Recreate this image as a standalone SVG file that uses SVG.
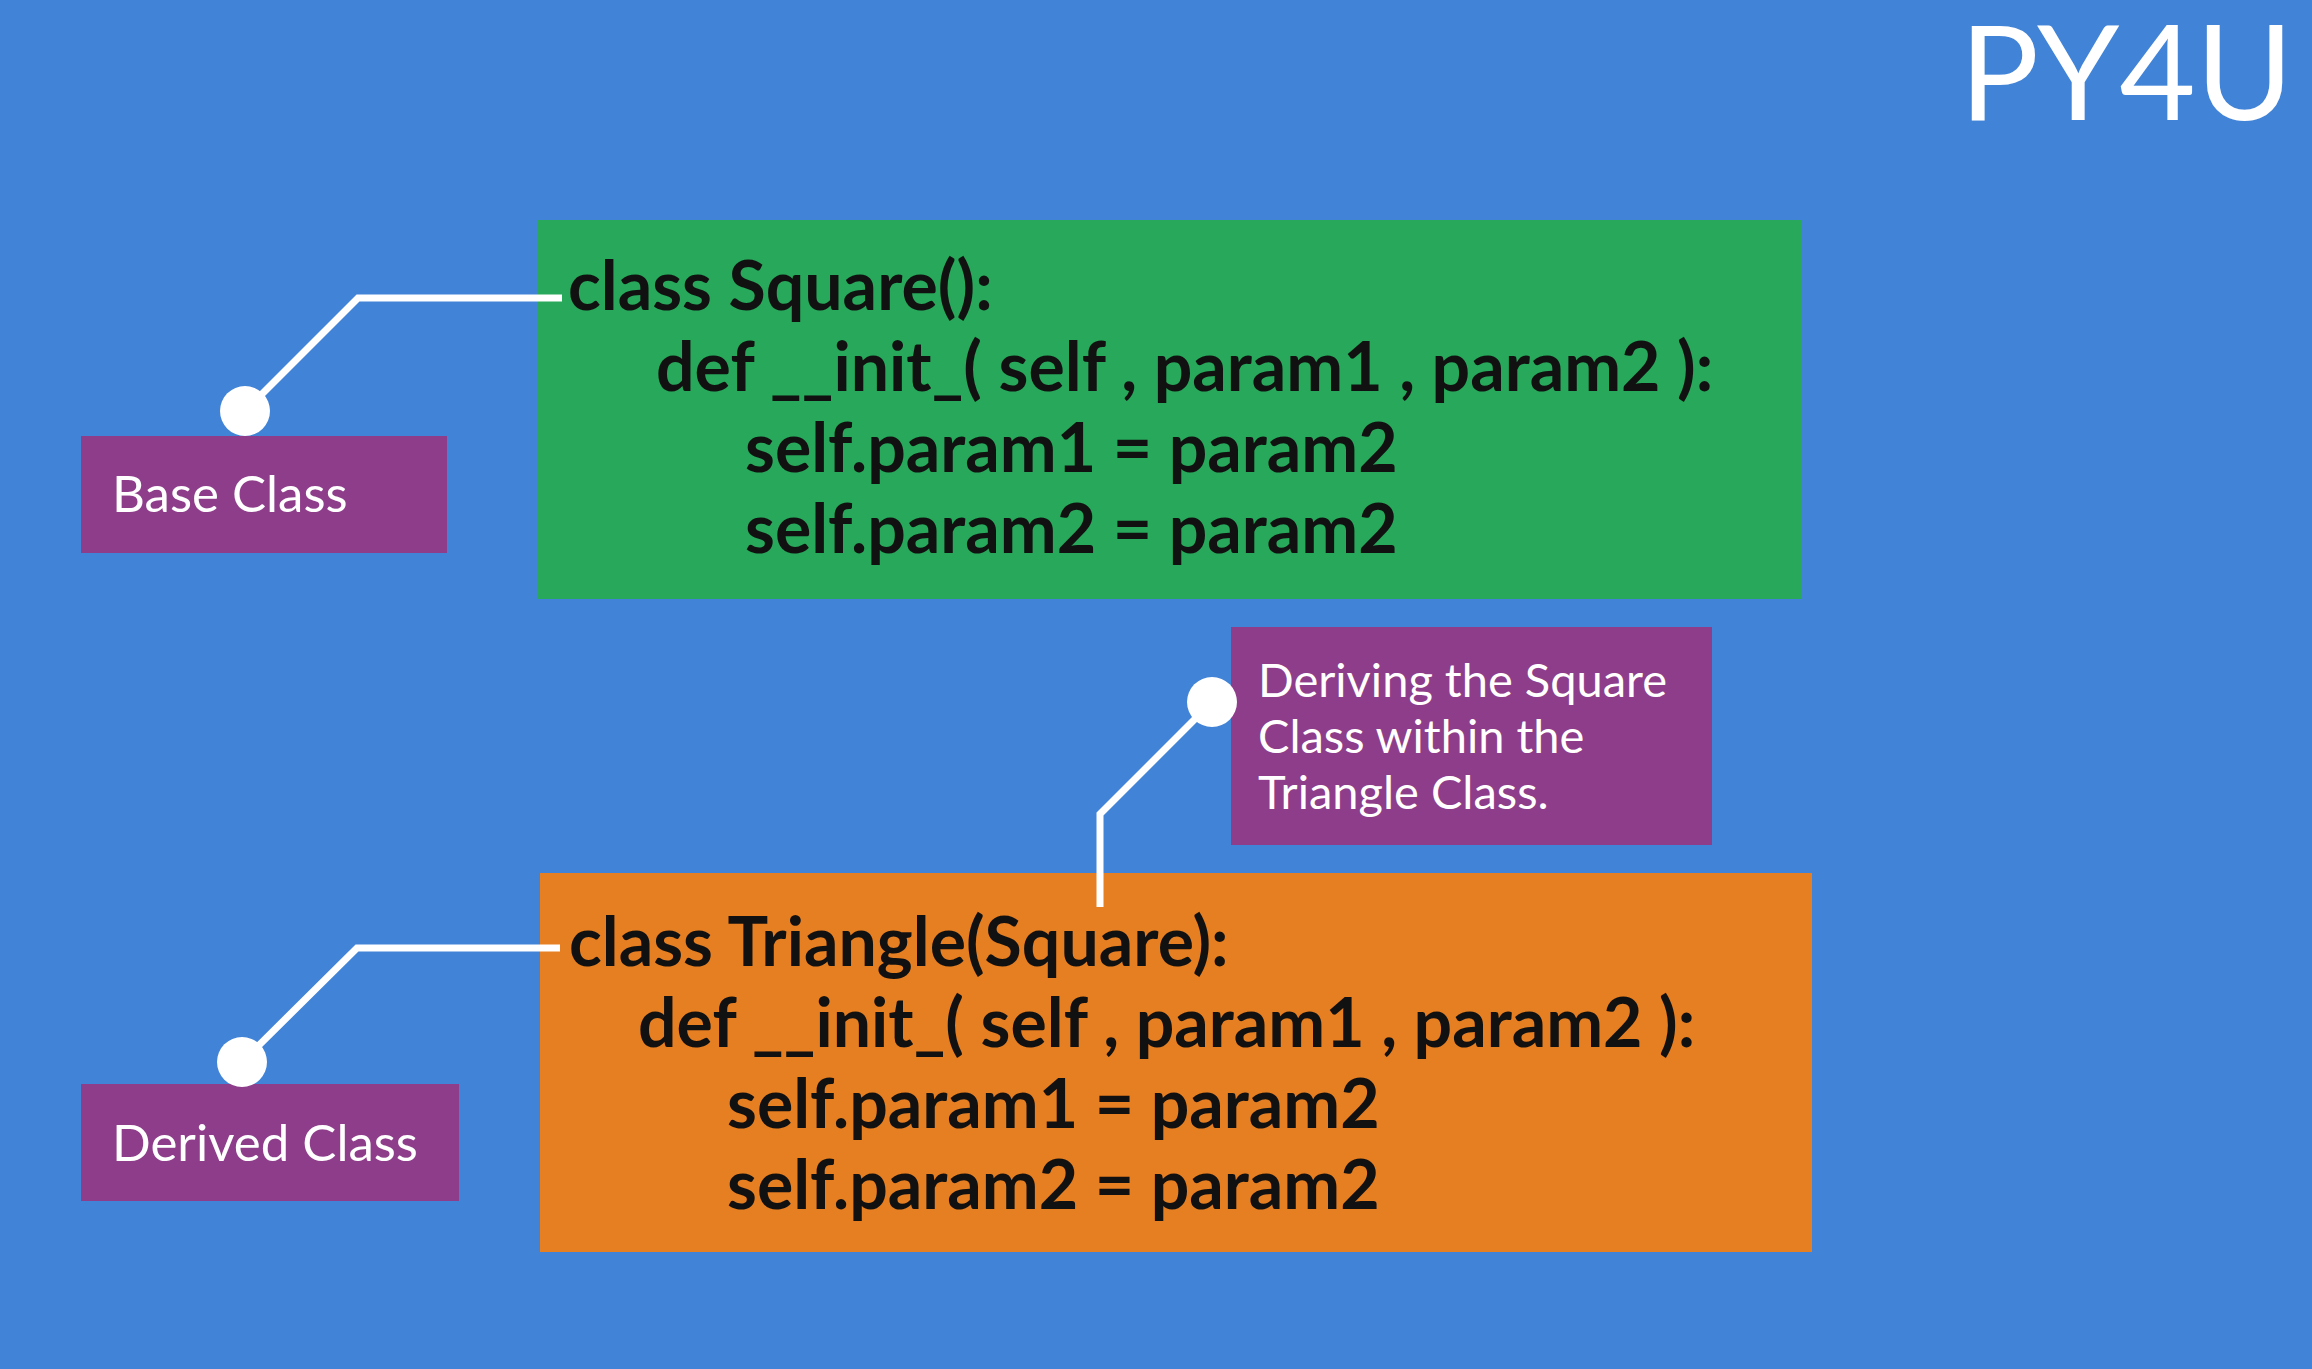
<svg xmlns="http://www.w3.org/2000/svg" width="2312" height="1369" viewBox="0 0 2312 1369">
<style>
.code{font-family:Lato,"Noto Sans",sans-serif;font-weight:bold;font-size:68px;fill:#111}
.lbl{font-family:Lato,"Noto Sans",sans-serif;font-size:51px;fill:#fff}
.sm{font-family:Lato,"Noto Sans",sans-serif;font-size:47px;fill:#fff}
.ln{fill:none;stroke:#fff;stroke-width:7}
</style>
<rect width="2312" height="1369" fill="#4183d7"/>
<text x="2293" y="120" text-anchor="end" font-family="Lato,'Noto Sans',sans-serif" font-size="132" fill="#fff">PY4U</text>
<g id="square">
<rect x="537" y="220" width="1265" height="379" fill="#27a85a"/>
<text class="code" x="568" y="310">class Square():</text>
<text class="code" x="656" y="391">def __init_( self , param1 , param2 ):</text>
<text class="code" x="745" y="472">self.param1 = param2</text>
<text class="code" x="745" y="553">self.param2 = param2</text>
</g>
<g id="triangle">
<rect x="540" y="873" width="1272" height="379" fill="#e67e22"/>
<text class="code" x="569" y="966">class Triangle(Square):</text>
<text class="code" x="638" y="1047">def __init_( self , param1 , param2 ):</text>
<text class="code" x="727" y="1128">self.param1 = param2</text>
<text class="code" x="727" y="1209">self.param2 = param2</text>
</g>
<g id="base">
<rect x="81" y="436" width="366" height="117" fill="#8e3d8a"/>
<text class="lbl" x="112" y="512">Base Class</text>
</g>
<g id="derived">
<rect x="81" y="1084" width="378" height="117" fill="#8e3d8a"/>
<text class="lbl" x="112" y="1161">Derived Class</text>
</g>
<g id="deriving">
<rect x="1231" y="627" width="481" height="218" fill="#8e3d8a"/>
<text class="sm" x="1258" y="697">Deriving the Square</text>
<text class="sm" x="1258" y="753">Class within the</text>
<text class="sm" x="1258" y="809">Triangle Class.</text>
</g>
<g id="connectors">
<polyline class="ln" points="245,411 358,298 562,298"/>
<circle cx="245" cy="411" r="25" fill="#fff"/>
<polyline class="ln" points="242,1062 357,948 560,948"/>
<circle cx="242" cy="1062" r="25" fill="#fff"/>
<polyline class="ln" points="1212,702 1100,814 1100,907"/>
<circle cx="1212" cy="702" r="25" fill="#fff"/>
</g>
</svg>
